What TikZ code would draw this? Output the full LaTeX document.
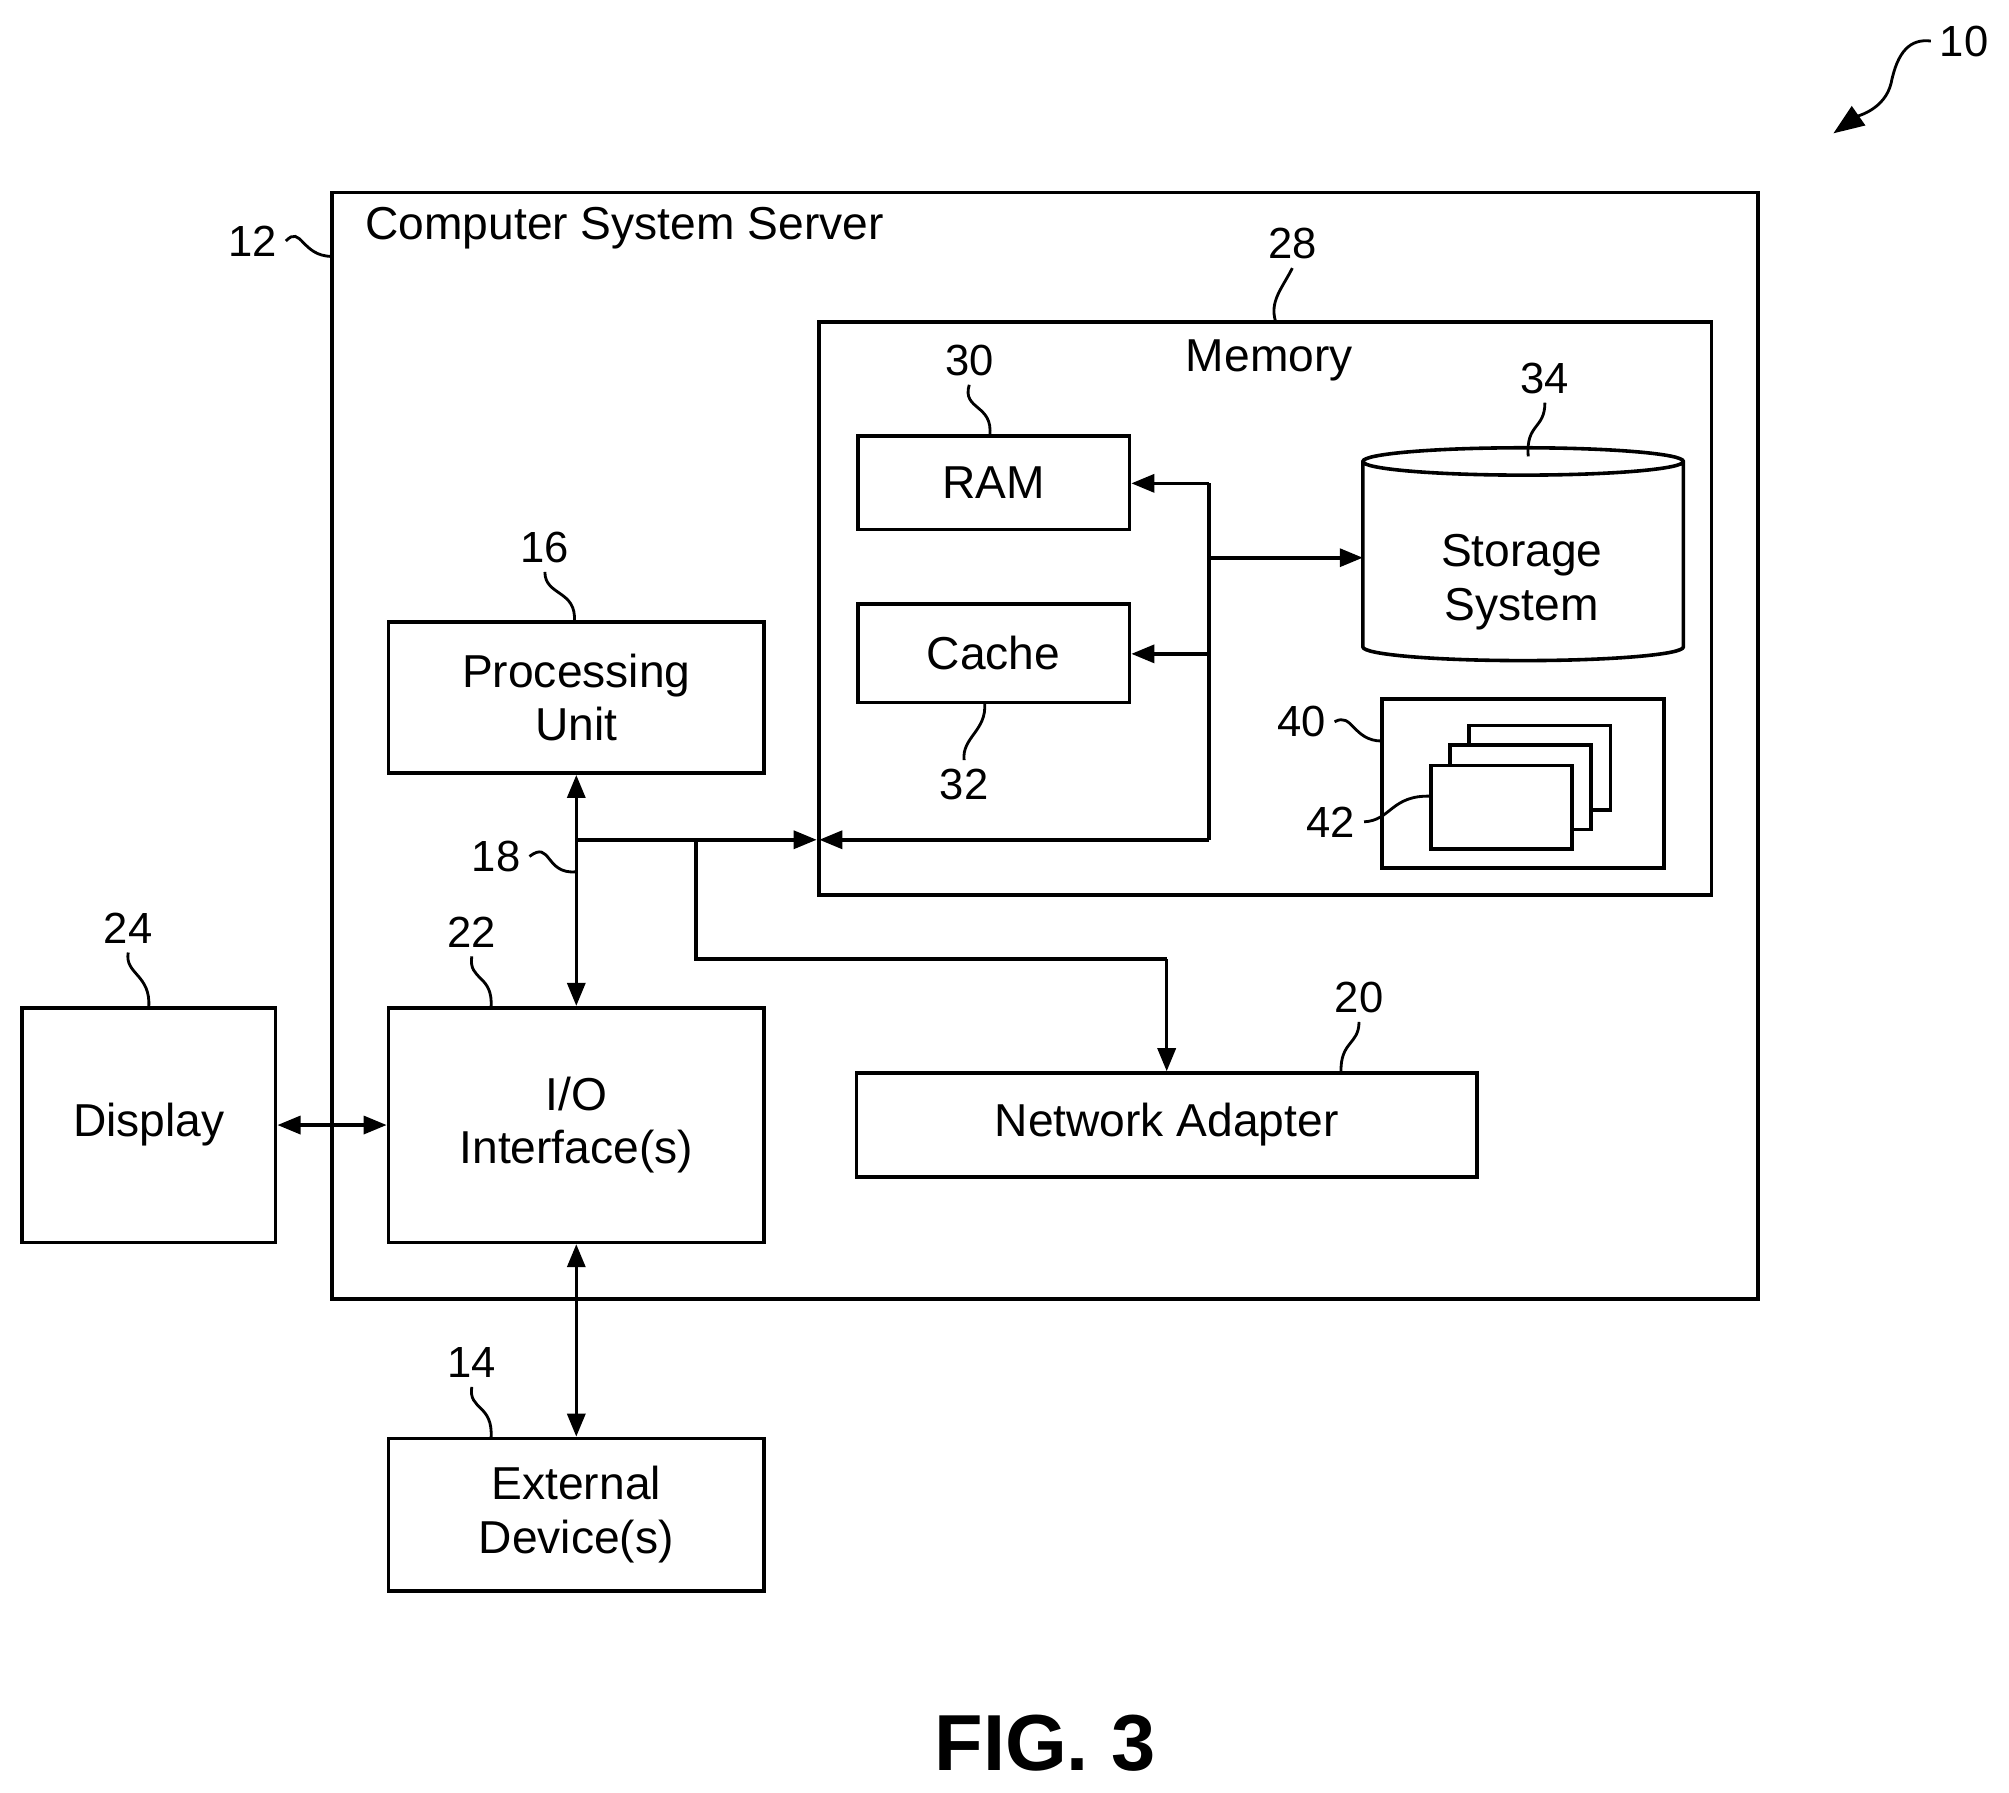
\documentclass[tikz,border=0pt]{standalone}
\usepackage{fontspec}
\setmainfont{Liberation Sans}
\usetikzlibrary{arrows.meta,shapes.geometric}
\begin{document}
\begin{tikzpicture}[x=0.5pt,y=-0.5pt,
 box/.style={draw,line width=1.4pt,inner sep=0pt},
 txt/.style={font=\fontsize{18}{21}\selectfont,align=center},
 num/.style={font=\fontsize{17}{20}\selectfont},
 ar/.style={line width=1.4pt,-{Triangle[length=9pt,width=7pt]}},
 dar/.style={line width=1.4pt,{Triangle[length=9pt,width=7pt]}-{Triangle[length=9pt,width=7pt]}},
 ln/.style={line width=1.4pt},
 lead/.style={line width=1.1pt}]
\useasboundingbox (0,0) rectangle (1567,1398);
% outer
\draw[box] (259,150) rectangle (1371,1013);
\node[txt,anchor=west] (css) at (278,178) {Computer System Server};
\node[num] (n12) at (197,188) {12};
\draw[lead] (n12.east) .. controls (235,175) and (235,200) .. (259,200);
\node[num] (n10) at (1532,32) {10};
\coordinate (t10) at (1430,104);
\draw[lead,-{Triangle[length=12pt,width=9pt]}] (n10.west) .. controls (1490,30) and (1480,40) .. (1475,65) .. controls (1470,85) and (1450,90) .. (t10);
% memory
\draw[box] (639,251) rectangle (1335,698);
\node[txt] (mem) at (990,281) {Memory};
\node[num] (n28) at (1008,190) {28};
\draw[lead] (n28.south) .. controls (1000,225) and (990,235) .. (995,251);
\node[box,minimum width=106pt,minimum height=36.5pt,txt] (ram) at (775,376.5) {RAM};
\node[num] (n30) at (756,281) {30};
\draw[lead] (n30.south) .. controls (750,320) and (775,315) .. (772,340);
\node[box,minimum width=106pt,minimum height=38.5pt,txt] (cache) at (775,509.5) {Cache};
\node[num] (n32) at (752,612) {32};
\draw[lead] (n32.north) .. controls (750,575) and (770,570) .. (768,548);
% storage
\node[cylinder,shape border rotate=90,draw,line width=1.4pt,minimum width=125pt,minimum height=83pt,aspect=1.6,txt] (sto) at (1188,440) {};
\node[txt] (stot) at (1187,454) {Storage\\System};
\node[num] (n34) at (1205,295) {34};
\draw[lead] (n34.south) .. controls (1205,335) and (1190,330) .. (1192,356);
% 40 box
\node[box,minimum width=110pt,minimum height=66pt] (b40) at (1188,611) {};
\node[num] (n40) at (1015,563) {40};
\draw[lead] (n40.east) .. controls (1055,555) and (1055,578) .. (1078,578);
\draw[ln,fill=white] (1146,566) rectangle (1256,632);
\draw[ln,fill=white] (1131,581) rectangle (1241,647);
\node[box,fill=white,minimum width=55pt,minimum height=32.5pt] (pg) at (1171,629.5) {};
\node[num] (n42) at (1038,641) {42};
\draw[lead] (n42.east) .. controls (1085,640) and (1085,620) .. (1116,621);
% bus in memory
\coordinate (b1) at (943,377);
\coordinate (b2) at (943,510);
\coordinate (b3) at (943,435);
\coordinate (b4) at (943,655);
\coordinate (mr) at (639,655);
\draw[ln] (b1) -- (b4);
\draw[ar] (b1) -- (ram.east |- b1);
\draw[ar] (b2) -- (cache.east |- b2);
\draw[ar] (b3) -- (1063,435);
\draw[ar] (b4) -- (mr);
% processing
\node[box,minimum width=146.5pt,minimum height=59pt,txt] (pu) at (449.5,544) {Processing\\Unit};
\node[num] (n16) at (425,427) {16};
\draw[lead] (n16.south) .. controls (425,465) and (450,460) .. (448,485);
\node[box,minimum width=146.5pt,minimum height=91.5pt,txt] (io) at (449.5,877.5) {I/O\\Interface(s)};
\node[num] (n22) at (368,727) {22};
\draw[lead] (n22.south) .. controls (365,765) and (385,760) .. (383,786);
\node[box,minimum width=99pt,minimum height=91.5pt,txt] (disp) at (116,877.5) {Display};
\node[num] (n24) at (100,724) {24};
\draw[lead] (n24.south) .. controls (97,760) and (118,760) .. (116,786);
\node[box,minimum width=146.5pt,minimum height=59.5pt,txt] (ext) at (449.5,1181.5) {External\\Device(s)};
\node[num] (n14) at (368,1063) {14};
\draw[lead] (n14.south) .. controls (365,1100) and (385,1095) .. (383,1122);
\node[box,minimum width=242pt,minimum height=40.5pt,txt] (na) at (910,877.5) {Network Adapter};
\node[num] (n20) at (1060,778) {20};
\draw[lead] (n20.south) .. controls (1060,815) and (1045,812) .. (1046,837);
% connectors
\coordinate (j1) at (449,655);
\coordinate (j2) at (543,655);
\coordinate (j3) at (543,748);
\coordinate (j4) at (910,748);
\coordinate (ml) at (637,655);
\draw[dar] (pu.south) -- (io.north);
\draw[ar] (j1) -- (ml);
\draw[ln] (j2) -- (j3) -- (j4);
\draw[ar] (j4) -- (na.north);
\draw[dar] (disp.east) -- (io.west);
\draw[dar] (io.south) -- (ext.north);
\node[num] (n18) at (387,668) {18};
\draw[lead] (n18.east) .. controls (430,655) and (425,682) .. (449,680);
\node[font=\bfseries\fontsize{31}{36}\selectfont] (fig) at (815,1360) {FIG. 3};
\end{tikzpicture}
\end{document}
